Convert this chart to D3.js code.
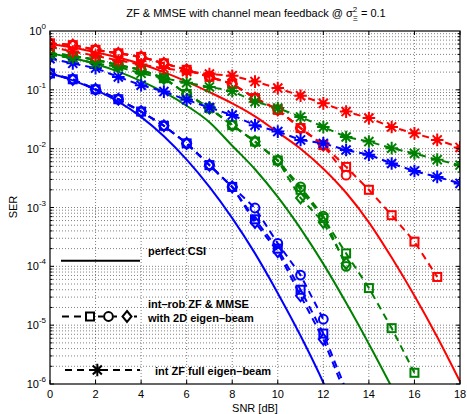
<!DOCTYPE html>
<html><head><meta charset="utf-8">
<script src="https://cdn.jsdelivr.net/npm/d3@7/dist/d3.min.js"></script>
<style>body{margin:0;background:#fff}svg{font-family:"Liberation Sans",Arial,Helvetica,sans-serif}</style>
</head><body><svg id="c" width="467" height="414"></svg>
<script>
// ---------- data ----------
const snrDb = [0,1,2,3,4,5,6,7,8,9,10,11,12,13,14,15,16,17,18];
const xTicks = [0,2,4,6,8,10,12,14,16,18];
const yDecades = [1,1e-1,1e-2,1e-3,1e-4,1e-5,1e-6];
const yTickExp = ["0","-1","-2","-3","-4","-5","-6"];

// perfect CSI (solid)
const blueCSI  = [0.19,0.145,0.1,0.063,0.0347,0.0162,6.5e-3,2.24e-3,6.6e-4,1.66e-4,3.5e-5,6.6e-6,1.05e-6,1.2e-7];
const greenCSI = [0.417,0.347,0.275,0.204,0.141,0.0912,0.0537,0.0282,0.0112,4.47e-3,1.51e-3,4.37e-4,1.1e-4,2.4e-5,4.8e-6,8.9e-7];
const redCSI   = [0.603,0.525,0.437,0.355,0.275,0.2,0.138,0.0912,0.0589,0.0355,0.019,0.01,4.57e-3,1.78e-3,5.6e-4,1.41e-4,3.16e-5,6.3e-6,1.1e-6];

// int-rob ZF & MMSE with 2D eigen-beam (dashed, square / circle / diamond)
const blueSq   = [0.19,0.151,0.102,0.0692,0.0427,0.0245,0.0123,5.25e-3,2.24e-3,6.3e-4,2.0e-4,4.0e-5,7.2e-6,7.9e-7];
const blueCi   = [0.19,0.151,0.102,0.0692,0.0427,0.0245,0.0123,5.25e-3,2.24e-3,9.8e-4,2.45e-4,7.1e-5,1.26e-5];
const blueDi   = [0.19,0.151,0.102,0.0692,0.0427,0.0245,0.0123,5.25e-3,2.24e-3,5.6e-4,1.78e-4,3.16e-5,5.75e-6,6.3e-7];
const greenSq  = [0.417,0.38,0.324,0.263,0.219,0.158,0.0851,0.049,0.0251,0.0132,6.3e-3,2.0e-3,6.6e-4,1.66e-4,4.27e-5,8.9e-6,1.55e-6];
const greenCi  = [0.417,0.38,0.324,0.263,0.219,0.158,0.0851,0.049,0.0251,0.0132,6.3e-3,2.24e-3,7.1e-4,1.0e-4];
const greenDi  = [0.417,0.38,0.324,0.263,0.219,0.158,0.0851,0.049,0.0251,0.0132,6.3e-3,1.45e-3,5.6e-4,1.12e-4];
const redSq    = [0.617,0.575,0.479,0.417,0.363,0.282,0.219,0.166,0.126,0.0724,0.0457,0.0224,0.0115,4.9e-3,2.0e-3,7.4e-4,2.63e-4,6.6e-5];
const redCi    = [0.617,0.575,0.479,0.417,0.363,0.282,0.219,0.166,0.126,0.0724,0.0457,0.0224,0.0115,3.55e-3];
const redDi    = [0.617,0.575,0.479,0.417,0.363,0.282,0.219,0.166,0.126,0.0724,0.0457,0.0224,0.0115];

// int ZF full eigen-beam (dashed, star)
const blueSt  = [0.339,0.282,0.234,0.166,0.12,0.0933,0.0676,0.0501,0.0372,0.0251,0.0195,0.0141,0.0123,9.5e-3,7.9e-3,5.6e-3,4.17e-3,3.31e-3,2.57e-3];
const greenSt = [0.389,0.347,0.282,0.245,0.191,0.158,0.132,0.112,0.0955,0.063,0.049,0.0347,0.0234,0.0158,0.0132,0.0102,8.3e-3,6.5e-3,5.25e-3];
const redSt   = [0.537,0.447,0.38,0.316,0.269,0.234,0.204,0.186,0.174,0.138,0.107,0.0794,0.0589,0.0427,0.0331,0.0234,0.0182,0.0141,0.0105];

const colors = {blue:"#0000ff", green:"#008000", red:"#ff0000"};

// ---------- layout ----------
const svg = d3.select("#c");
const L = 50, T = 31, R = 460, B = 384;
const x = d3.scaleLinear().domain([0,18]).range([L,R]);
const y = d3.scaleLog().domain([1e-6,1]).range([B,T]);

// grid
const grid = svg.append("g").attr("stroke","#000").attr("stroke-width",0.7)
  .attr("stroke-dasharray","1,2").attr("opacity",0.7);
xTicks.slice(1,-1).forEach(t=>grid.append("line").attr("x1",x(t)).attr("x2",x(t)).attr("y1",T).attr("y2",B));
const minorY = [];
for (let e=-6;e<0;e++) for (let m=1;m<10;m++) minorY.push(m*Math.pow(10,e));
minorY.filter(v=>v>1e-6 && v<1).forEach(v=>grid.append("line").attr("x1",L).attr("x2",R).attr("y1",y(v)).attr("y2",y(v)));

// clip
svg.append("clipPath").attr("id","pc").append("rect").attr("x",L).attr("y",T).attr("width",R-L).attr("height",B-T);
const plot = svg.append("g").attr("clip-path","url(#pc)");

const line = d3.line().defined(d=>d[1]!=null).x(d=>x(d[0])).y(d=>y(d[1])).curve(d3.curveMonotoneX);
const lineLin = d3.line().x(d=>x(d[0])).y(d=>y(d[1]));
function pts(arr){ return arr.map((v,i)=>[snrDb[i],v]); }

// marker shapes
function marker(g, type, cx, cy, col){
  const s = g.append("g").attr("transform",`translate(${cx},${cy})`).attr("stroke",col).attr("fill","none").attr("stroke-width",2);
  if (type==="sq") s.append("rect").attr("x",-4).attr("y",-4).attr("width",8).attr("height",8);
  else if (type==="ci") s.append("circle").attr("r",4.4);
  else if (type==="di") s.append("path").attr("d","M0,-5.5L4.5,0L0,5.5L-4.5,0Z");
  else if (type==="st") {
    const r=6.3, d=r*0.72;
    s.append("path").attr("d",`M${-r},0L${r},0M0,${-r}L0,${r}M${-d},${-d}L${d},${d}M${-d},${d}L${d},${-d}`);
  }
}

const solids = [[blueCSI,"blue"],[greenCSI,"green"],[redCSI,"red"]];
solids.forEach(([arr,c])=>{
  plot.append("path").attr("d",line(pts(arr))).attr("fill","none").attr("stroke",colors[c]).attr("stroke-width",2);
});

const dashed = [
  [blueSq,"blue","sq"],[blueCi,"blue","ci"],[blueDi,"blue","di"],
  [greenSq,"green","sq"],[greenCi,"green","ci"],[greenDi,"green","di"],
  [redSq,"red","sq"],[redCi,"red","ci"],[redDi,"red","di"],
  [blueSt,"blue","st"],[greenSt,"green","st"],[redSt,"red","st"]
];
dashed.forEach(([arr,c,m])=>{
  plot.append("path").attr("d",lineLin(pts(arr))).attr("fill","none").attr("stroke",colors[c])
    .attr("stroke-width",2).attr("stroke-dasharray","7,5");
});
dashed.forEach(([arr,c,m])=>{
  pts(arr).forEach(p=>{ if (p[1]>=1e-6*0.98 && p[1]<=1) marker(plot,m,x(p[0]),y(p[1]),colors[c]); });
});

// axes box & ticks
const ax = svg.append("g").attr("stroke","#000").attr("fill","none");
ax.append("rect").attr("x",L).attr("y",T).attr("width",R-L).attr("height",B-T).attr("stroke-width",1.2);
xTicks.forEach(t=>{
  ax.append("line").attr("x1",x(t)).attr("x2",x(t)).attr("y1",B).attr("y2",B-4);
  ax.append("line").attr("x1",x(t)).attr("x2",x(t)).attr("y1",T).attr("y2",T+4);
});
minorY.forEach(v=>{
  const len = (Math.abs(Math.log10(v)-Math.round(Math.log10(v)))<1e-9)?4:2.5;
  ax.append("line").attr("x1",L).attr("x2",L+len).attr("y1",y(v)).attr("y2",y(v));
  ax.append("line").attr("x1",R).attr("x2",R-len).attr("y1",y(v)).attr("y2",y(v));
});

// tick labels
const tl = svg.append("g").attr("font-size",11).attr("fill","#000");
xTicks.forEach(t=>tl.append("text").attr("x",x(t)).attr("y",397.5).attr("text-anchor","middle").text(t));
yDecades.forEach((v,i)=>{
  const t = tl.append("text").attr("x",46).attr("y",y(v)+4).attr("text-anchor","end");
  t.append("tspan").text("10");
  t.append("tspan").attr("dy",-6).attr("font-size",8).text(yTickExp[i]);
});

// axis labels
svg.append("text").attr("x",255).attr("y",411.5).attr("text-anchor","middle").attr("font-size",11).text("SNR [dB]");
svg.append("text").attr("transform","translate(17,207) rotate(-90)").attr("text-anchor","middle").attr("font-size",11).text("SER");

// title
const tt = svg.append("text").attr("x",256).attr("y",16.5).attr("text-anchor","middle").attr("font-size",11);
tt.append("tspan").text("ZF & MMSE with channel mean feedback @ σ");
tt.append("tspan").attr("dy",-5).attr("font-size",8).text("2");
tt.append("tspan").attr("dx",-4.5).attr("dy",9).attr("font-size",8).text("Ξ");
tt.append("tspan").attr("dy",-4).attr("font-size",11).text(" = 0.1");

// legend
const lg = svg.append("g");
lg.append("line").attr("x1",61).attr("x2",140).attr("y1",260.7).attr("y2",260.7).attr("stroke","#000").attr("stroke-width",2);
lg.append("text").attr("x",148).attr("y",255).attr("font-size",11).attr("font-weight","bold").text("perfect CSI");
lg.append("line").attr("x1",62).attr("x2",137).attr("y1",316.5).attr("y2",316.5).attr("stroke","#000").attr("stroke-width",2).attr("stroke-dasharray","7,5");
[["sq",90],["ci",108.5],["di",127]].forEach(([m,px])=>{
  lg.append("rect").attr("x",px-5).attr("y",310).attr("width",10).attr("height",13).attr("fill","#fff");
  marker(lg,m,px,316.5,"#000");
});
lg.append("text").attr("x",148).attr("y",308).attr("font-size",11).attr("font-weight","bold").text("int–rob ZF & MMSE");
lg.append("text").attr("x",148).attr("y",322).attr("font-size",11).attr("font-weight","bold").text("with 2D eigen–beam");
lg.append("line").attr("x1",65).attr("x2",140).attr("y1",370).attr("y2",370).attr("stroke","#000").attr("stroke-width",2).attr("stroke-dasharray","7,5");
marker(lg,"st",97.3,370,"#000");
lg.append("text").attr("x",155).attr("y",375).attr("font-size",11).attr("font-weight","bold").text("int ZF full eigen–beam");
</script></body></html>
